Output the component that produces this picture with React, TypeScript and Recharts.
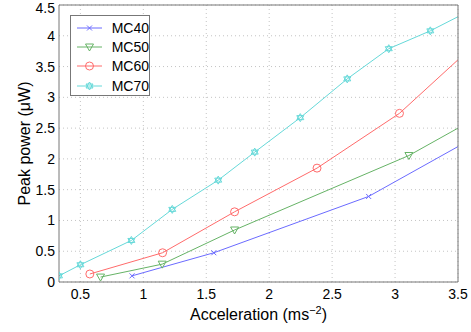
import { CartesianGrid, Line, LineChart, XAxis, YAxis } from 'recharts';

// valores (x = aceleración, y = potencia pico en µW)
const mc40X = [0.91, 1.56, 2.79, 3.5];
const mc40Y = [0.1, 0.475, 1.39, 2.2];
const mc50X = [0.66, 1.15, 1.725, 3.11, 3.5];
const mc50Y = [0.08, 0.29, 0.845, 2.055, 2.5];
const mc60X = [0.575, 1.153, 1.725, 2.38, 3.035, 3.5];
const mc60Y = [0.13, 0.475, 1.14, 1.85, 2.74, 3.61];
const mc70X = [0.33, 0.5, 0.905, 1.23, 1.595, 1.885, 2.247, 2.62, 2.95, 3.28, 3.5];
const mc70Y = [0.1, 0.28, 0.675, 1.18, 1.655, 2.11, 2.67, 3.3, 3.79, 4.08, 4.31];

const xTicks = [0.5, 1, 1.5, 2, 2.5, 3, 3.5];
const yTicks = [0, 0.5, 1, 1.5, 2, 2.5, 3, 3.5, 4, 4.5];
const xDomain = [0.33, 3.5];
const yDomain = [0, 4.5];

const toRows = (xs: number[], ys: number[]) => xs.map((x, i) => ({ x, y: ys[i] }));

const FONT = '"Liberation Sans", Arial, Helvetica, sans-serif';
const FRAME = '#777';

type Marker = 'x' | 'tri' | 'circle' | 'hex';

const series = [
  { name: 'MC40', color: '#6b6bff', marker: 'x' as Marker, data: toRows(mc40X, mc40Y) },
  { name: 'MC50', color: '#66b366', marker: 'tri' as Marker, data: toRows(mc50X, mc50Y) },
  { name: 'MC60', color: '#ff6b6b', marker: 'circle' as Marker, data: toRows(mc60X, mc60Y) },
  { name: 'MC70', color: '#66d9d9', marker: 'hex' as Marker, data: toRows(mc70X, mc70Y) },
];

const drawMarker = (marker: Marker, cx: number, cy: number, color: string) => {
  switch (marker) {
    case 'x':
      return (
        <g stroke={color} strokeWidth={1}>
          <line x1={cx - 2.5} y1={cy - 2.5} x2={cx + 2.5} y2={cy + 2.5} />
          <line x1={cx - 2.5} y1={cy + 2.5} x2={cx + 2.5} y2={cy - 2.5} />
        </g>
      );
    case 'tri':
      return (
        <polygon
          points={`${cx - 4},${cy - 3} ${cx + 4},${cy - 3} ${cx},${cy + 4}`}
          fill="none"
          stroke={color}
        />
      );
    case 'circle':
      return <circle cx={cx} cy={cy} r={4} fill="none" stroke={color} />;
    default:
      return (
        <g fill="none" stroke={color}>
          <polygon points={`${cx},${cy - 4} ${cx + 3.5},${cy + 2} ${cx - 3.5},${cy + 2}`} />
          <polygon points={`${cx},${cy + 4} ${cx + 3.5},${cy - 2} ${cx - 3.5},${cy - 2}`} />
        </g>
      );
  }
};

const makeDot = (marker: Marker, color: string) => (props: any) => {
  const { cx, cy, payload, index } = props;
  // el último punto queda en el borde derecho y no lleva marcador
  if (payload.x >= xDomain[1]) return <g key={`d${index}`} />;
  return <g key={`d${index}`}>{drawMarker(marker, cx, cy, color)}</g>;
};

const LegendBox = () => (
  <div
    style={{
      position: 'absolute',
      left: 70,
      top: 15,
      width: 80,
      height: 81,
      border: `1px solid ${FRAME}`,
      background: '#fff',
      boxSizing: 'border-box',
      paddingTop: 2,
    }}
  >
    {series.map((s) => (
      <div key={s.name} style={{ display: 'flex', alignItems: 'center', height: 19.3 }}>
        <svg width={36} height={14} style={{ marginLeft: 5 }}>
          <line x1={1} y1={7} x2={26} y2={7} stroke={s.color} />
          {drawMarker(s.marker, 13.5, 7, s.color)}
        </svg>
        <span style={{ fontFamily: FONT, fontSize: 14, color: '#000', lineHeight: '14px' }}>{s.name}</span>
      </div>
    ))}
  </div>
);

const XLabel = (props: any) => {
  const { viewBox } = props;
  const cx = viewBox.x + viewBox.width / 2;
  return (
    <text x={cx} y={320} textAnchor="middle" fontFamily={FONT} fontSize={16} fill="#000">
      Acceleration (ms
      <tspan dy={-6} fontSize={11}>−2</tspan>
      <tspan dy={6}>)</tspan>
    </text>
  );
};

const App = () => {
  return (
    <div style={{ position: 'absolute', left: 0, top: 0, width: 471, height: 332, background: '#fff' }}>
      <LineChart width={471} height={332} margin={{ top: 5, right: 13, left: 0, bottom: 0 }}>
        <CartesianGrid
          xAxisId="x"
          yAxisId="y"
          stroke="#c4c4c4"
          strokeDasharray="1 3"
          horizontalValues={yTicks}
          verticalValues={xTicks}
        />
        <XAxis
          xAxisId="x"
          dataKey="x"
          type="number"
          domain={xDomain}
          ticks={xTicks}
          allowDataOverflow
          height={50}
          tickLine={false}
          tickSize={0}
          tickMargin={7}
          tick={{ fontFamily: FONT, fontSize: 14, fill: '#000' }}
          axisLine={{ stroke: FRAME }}
          label={<XLabel />}
        />
        <XAxis
          xAxisId="xb"
          type="number"
          domain={xDomain}
          ticks={xTicks}
          allowDataOverflow
          mirror
          tick={false}
          tickSize={4}
          tickLine={{ stroke: FRAME }}
          axisLine={false}
        />
        <XAxis
          xAxisId="xt"
          orientation="top"
          type="number"
          domain={xDomain}
          ticks={xTicks}
          allowDataOverflow
          mirror
          tick={false}
          tickSize={4}
          tickLine={{ stroke: FRAME }}
          axisLine={{ stroke: FRAME }}
        />
        <YAxis
          yAxisId="y"
          type="number"
          domain={yDomain}
          ticks={yTicks}
          allowDataOverflow
          width={59}
          tickLine={false}
          tickSize={0}
          tickMargin={4}
          tick={{ fontFamily: FONT, fontSize: 14, fill: '#000' }}
          axisLine={{ stroke: FRAME }}
          label={{
            value: 'Peak power (μW)',
            angle: -90,
            position: 'insideLeft',
            offset: 0,
            dx: 24,
            style: { fontFamily: FONT, fontSize: 16, fill: '#000', textAnchor: 'middle' },
          }}
        />
        <YAxis
          yAxisId="yl"
          type="number"
          domain={yDomain}
          ticks={yTicks}
          allowDataOverflow
          mirror
          tick={false}
          tickSize={4}
          tickLine={{ stroke: FRAME }}
          axisLine={false}
        />
        <YAxis
          yAxisId="yr"
          orientation="right"
          type="number"
          domain={yDomain}
          ticks={yTicks}
          allowDataOverflow
          mirror
          tick={false}
          tickSize={4}
          tickLine={{ stroke: FRAME }}
          axisLine={{ stroke: FRAME }}
        />
        {series.map((s) => (
          <Line
            key={s.name}
            xAxisId="x"
            yAxisId="y"
            data={s.data}
            dataKey="y"
            name={s.name}
            stroke={s.color}
            strokeWidth={1}
            dot={makeDot(s.marker, s.color)}
            activeDot={false}
            isAnimationActive={false}
          />
        ))}
      </LineChart>
      <LegendBox />
    </div>
  );
};

export default App;
